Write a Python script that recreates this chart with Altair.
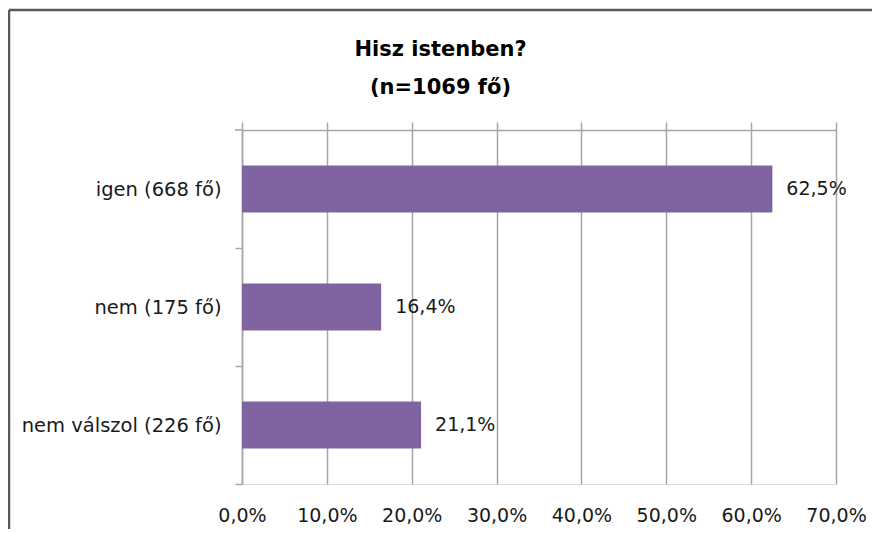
import altair as alt
import pandas as pd

categories = ["igen (668 fő)", "nem (175 fő)", "nem válszol (226 fő)"]
values = [62.5, 16.4, 21.1]
value_labels = ["62,5%", "16,4%", "21,1%"]
x_ticks = [0.0, 0.1, 0.2, 0.3, 0.4, 0.5, 0.6, 0.7]

df = pd.DataFrame({"cat": categories, "val": [v / 100 for v in values], "lab": value_labels})
one = pd.DataFrame({"a": [0]})

FONT = "DejaVu Sans"
GRAY = "#a6a6a6"
TXT = "#1a1a1a"
W, H = 594, 354

xscale = alt.Scale(domain=[0, 0.7], nice=False, zero=True)
yenc = alt.Y(
    "cat:N", sort=categories, title=None,
    scale=alt.Scale(paddingInner=0.6, paddingOuter=0.3),
    axis=alt.Axis(domain=True, domainColor=GRAY, domainWidth=1.5, ticks=True, tickOffset=59,
                  labelOffset=-59, tickSize=7, tickColor=GRAY, tickWidth=1.5,
                  labelPadding=14, labelFontSize=19.5, labelFont=FONT, labelColor=TXT,
                  labelLimit=0, grid=False),
)

bottom_axis = alt.Axis(orient="bottom", values=x_ticks,
                       labelExpr="replace(format(datum.value, '.1%'), '.', ',')",
                       labelOverlap=False, labelFlush=False, labelAlign="center",
                       domain=False, ticks=False, grid=True, gridColor=GRAY, gridWidth=1.5,
                       labelPadding=22, labelFontSize=19, labelFont=FONT, labelColor=TXT, title=None)
top_axis = alt.Axis(orient="top", values=x_ticks, labels=False, domain=True, domainColor=GRAY,
                    domainWidth=1.5, ticks=True, tickSize=8, tickColor=GRAY, tickWidth=1.5,
                    grid=False, title=None)

bars = alt.Chart(df).mark_bar(color="#8064A2").encode(
    x=alt.X("val:Q", scale=xscale, axis=bottom_axis), y=yenc)

texts = alt.Chart(df).mark_text(align="left", baseline="middle", dx=14, fontSize=19,
                                font=FONT, color=TXT).encode(
    x=alt.X("val:Q", scale=xscale, axis=top_axis), y=yenc, text="lab:N")

top_tick = alt.Chart(one).mark_rule(color=GRAY, strokeWidth=1.5).encode(
    x=alt.value(-7), x2=alt.value(0), y=alt.value(0))

left_line = alt.Chart(one).mark_rule(color="#595959", strokeWidth=2.5).encode(
    x=alt.value(-233), y=alt.value(-120), y2=alt.value(H + 45))
top_line = alt.Chart(one).mark_rule(color="#595959", strokeWidth=2.5).encode(
    x=alt.value(-233), x2=alt.value(630), y=alt.value(-120))

chart = alt.layer(bars, texts, top_tick, left_line, top_line).resolve_axis(x="independent").properties(
    width=W, height=H,
    autosize=alt.AutoSizeParams(type="none"),
    padding={"left": 234, "top": 122, "right": 36, "bottom": 45},
    title=alt.TitleParams(["Hisz istenben?", "(n=1069 fő)"], font=FONT, fontSize=21,
                          fontWeight="bold", color="#000", lineHeight=38, offset=-89,
                          anchor="middle", frame="bounds"),
).configure_view(stroke=None).configure(background="white")

chart.save("out.html", embed_options={"renderer": "svg", "actions": False})
